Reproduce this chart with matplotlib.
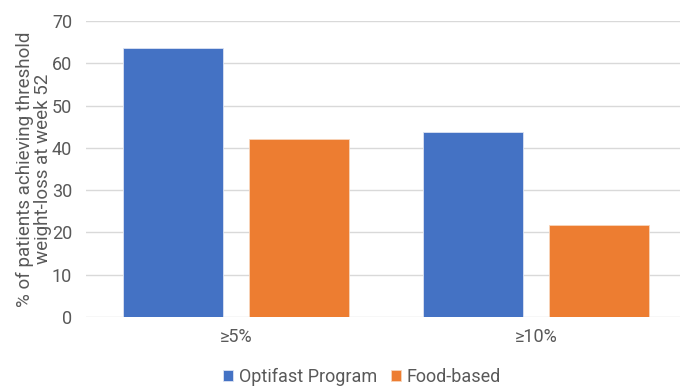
import matplotlib.pyplot as plt
import numpy as np

categories = ["≥5%", "≥10%"]
optifast = [63.5, 43.7]
food_based = [42.0, 21.8]
series_names = ["Optifast Program", "Food-based"]

BLUE = "#4472C4"
ORANGE = "#ED7D31"
GREY_TEXT = "#595959"
GRID = "#D9D9D9"

plt.rcParams["font.family"] = ["Roboto", "DejaVu Sans"]

fig = plt.figure(figsize=(6.8, 3.87), dpi=100)
W, H = 680, 387
ax = fig.add_axes([86 / W, (H - 317) / H, (680 - 86) / W, 296 / H])

x = np.arange(len(categories))
width = 0.335
offset = 0.21
ax.bar(x - offset, optifast, width, color=BLUE, edgecolor="#DCE3F2",
       linewidth=0.6, label=series_names[0], zorder=3)
ax.bar(x + offset, food_based, width, color=ORANGE, edgecolor="#F8D5BC",
       linewidth=0.6, label=series_names[1], zorder=3)

ax.set_xlim(-0.5, 1.48)
ax.set_ylim(0, 70)
ax.set_yticks(range(0, 71, 10))
ax.set_xticks(x)
ax.set_xticklabels(categories)

ax.grid(axis="y", color=GRID, linewidth=1.0, zorder=0)
for s in ax.spines.values():
    s.set_visible(False)
ax.tick_params(axis="both", length=0, colors=GREY_TEXT, labelsize=13)
ax.tick_params(axis="y", pad=10)
ax.tick_params(axis="x", pad=8)

ax.set_ylabel("% of patients achieving threshold\nweight-loss at week 52",
              color=GREY_TEXT, fontsize=13.5, linespacing=1.0, labelpad=0)

leg = fig.legend(loc="center", bbox_to_anchor=(362 / W, (H - 377) / H),
                 ncol=2, frameon=False, fontsize=13, handlelength=0.55,
                 handleheight=0.55, handletextpad=0.3, columnspacing=0.8)
for t in leg.get_texts():
    t.set_color(GREY_TEXT)

fig.savefig("out.png", dpi=100)
